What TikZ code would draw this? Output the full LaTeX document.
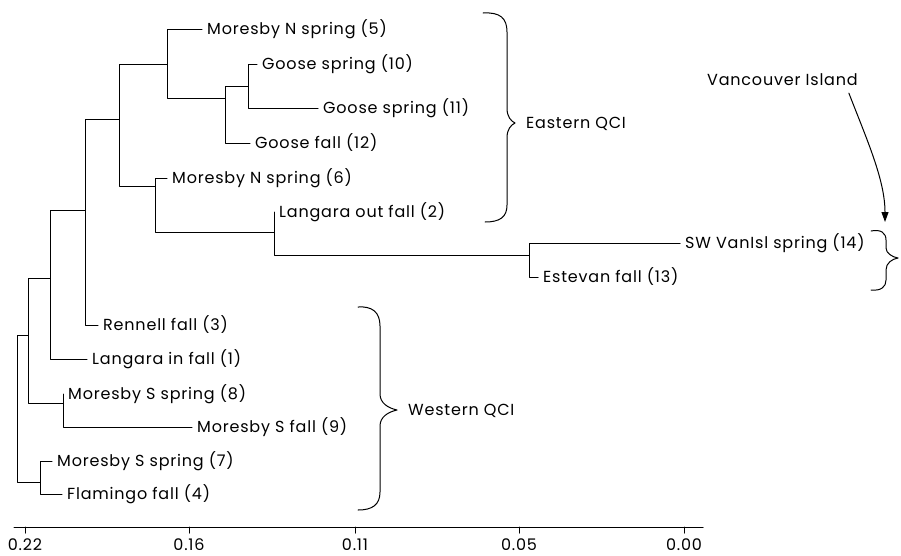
\documentclass[tikz,border=0pt]{standalone}
\usepackage{fontspec}
\setmainfont{Poppins}[LetterSpace=5.0]
\usepackage{tikz}
\usetikzlibrary{arrows.meta,positioning}

\tikzset{
  leaf/.style={anchor=west, inner xsep=5pt, inner ysep=0pt, font=\fontsize{16}{16}\selectfont},
  grouplabel/.style={anchor=west, inner sep=0pt, font=\fontsize{16}{16}\selectfont},
  ticklabel/.style={anchor=base, inner sep=0pt, font=\fontsize{16}{16}\selectfont},
  branch/.style={line width=1pt},
}

\begin{document}
\begin{tikzpicture}[x=1pt, y=-1pt, line cap=round, line join=round, >={Triangle[length=10pt,width=7pt]}]
\useasboundingbox (0,0) rectangle (901,555);

% leaves
\node[leaf] (l5) at (202,29) {Moresby N spring (5)};
\node[leaf] (l10) at (257,64) {Goose spring (10)};
\node[leaf] (l11) at (318,108) {Goose spring (11)};
\node[leaf] (l12) at (250,143) {Goose fall (12)};
\node[leaf] (l6) at (167,178) {Moresby N spring (6)};
\node[leaf] (l2) at (274,212) {Langara out fall (2)};
\node[leaf] (l14) at (680,243) {SW VanIsl spring (14)};
\node[leaf] (l13) at (538,277) {Estevan fall (13)};
\node[leaf] (l3) at (98,325) {Rennell fall (3)};
\node[leaf] (l1) at (87,359) {Langara in fall (1)};
\node[leaf] (l8) at (63,394) {Moresby S spring (8)};
\node[leaf] (l9) at (192,427) {Moresby S fall (9)};
\node[leaf] (l7) at (52,461) {Moresby S spring (7)};
\node[leaf] (l4) at (62,494) {Flamingo fall (4)};

% joins
\coordinate (g1011) at (248,86);
\coordinate (g12) at (225,98);
\coordinate (g5) at (167,64);
\coordinate (g1314) at (529,255);
\coordinate (g2) at (274,232);
\coordinate (g6) at (155,186);
\coordinate (geast) at (119,119);
\coordinate (g3) at (85,210);
\coordinate (g1) at (50,278);
\coordinate (g89) at (63,403);
\coordinate (gwest) at (28,335);
\coordinate (g47) at (40,482);
\coordinate (groot) at (17,408);

\draw[branch] (g1011) |- (l10.west);
\draw[branch] (g1011) |- (l11.west);
\draw[branch] (g12) |- (g1011);
\draw[branch] (g12) |- (l12.west);
\draw[branch] (g5) |- (l5.west);
\draw[branch] (g5) |- (g12);
\draw[branch] (g1314) |- (l14.west);
\draw[branch] (g1314) |- (l13.west);
\draw[branch] (g2) |- (l2.west);
\draw[branch] (g2) |- (g1314);
\draw[branch] (g6) |- (l6.west);
\draw[branch] (g6) |- (g2);
\draw[branch] (geast) |- (g5);
\draw[branch] (geast) |- (g6);
\draw[branch] (g3) |- (geast);
\draw[branch] (g3) |- (l3.west);
\draw[branch] (g1) |- (g3);
\draw[branch] (g1) |- (l1.west);
\draw[branch] (g89) |- (l8.west);
\draw[branch] (g89) |- (l9.west);
\draw[branch] (gwest) |- (g1);
\draw[branch] (gwest) |- (g89);
\draw[branch] (g47) |- (l7.west);
\draw[branch] (g47) |- (l4.west);
\draw[branch] (groot) |- (gwest);
\draw[branch] (groot) |- (g47);

% axis
\draw[branch] (14,527) -- (703,527);
\foreach \x/\t [count=\i] in {25/0.22, 189/0.16, 355/0.11, 519/0.05, 684/0.00}{
  \draw[branch] (\x,527) -- (\x,533);
  \node[ticklabel] (tick\i) at (\x,550) {\t};
}

% braces
\draw[branch] (483,13) .. controls (500,12) and (507,18) .. (507,32) -- (507,108)
  .. controls (507,117) and (511,121) .. (515,123) .. controls (511,125) and (507,129) .. (507,138)
  -- (507,205) .. controls (507,217) and (500,222) .. (485,222);
\node[grouplabel] (east) at (526,124) {Eastern QCI};

\draw[branch] (358,307) .. controls (372,306) and (380,312) .. (380,326) -- (380,394)
  .. controls (380,403) and (388,408) .. (397,410) .. controls (388,412) and (380,417) .. (380,426)
  -- (380,492) .. controls (380,505) and (372,510) .. (358,510);
\node[grouplabel] (west) at (408,411) {Western QCI};

\draw[branch] (871,231) .. controls (881,229) and (886,233) .. (886,240) -- (886,248)
  .. controls (886,253) and (892,257) .. (898,258) .. controls (892,259) and (886,263) .. (886,270)
  -- (886,280) .. controls (886,287) and (881,291) .. (871,290);

\node[grouplabel] (van) at (707,80) {Vancouver Island};
\coordinate (vantip) at (885,222);
\draw[branch,->] ([shift={(-9,7)}]van.south east) .. controls (867,140) and (885,180) .. (vantip);

\end{tikzpicture}
\end{document}
